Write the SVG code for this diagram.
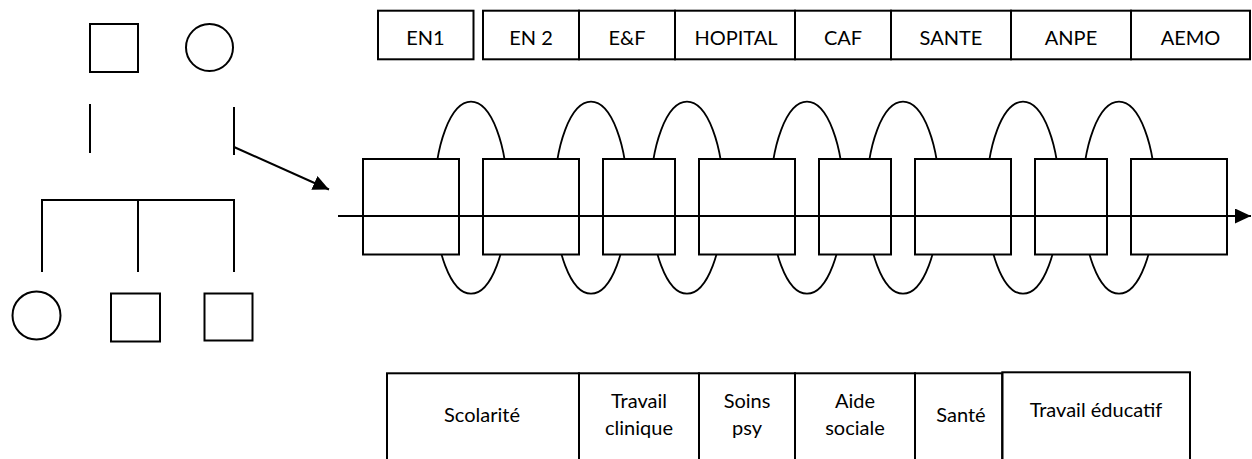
<svg xmlns="http://www.w3.org/2000/svg" width="1252" height="459" viewBox="0 0 1252 459">
<defs>
<style>
.s{fill:none;stroke:#000;stroke-width:2}
.b{fill:#fff;stroke:#000;stroke-width:2}
.e{fill:none;stroke:#000;stroke-width:1.8}
.t{font-family:Lato,"Open Sans","Liberation Sans",sans-serif;font-size:20px;fill:#000;text-anchor:middle}
</style>
<marker id="ah2" viewBox="0 0 16 15" refX="16" refY="7.5" markerWidth="16" markerHeight="15" markerUnits="userSpaceOnUse" orient="auto">
<path d="M0,0 L16,7.5 L0,15 Z" fill="#000"/>
</marker>
</defs>

<!-- genogram -->
<g id="father"><rect class="s" x="90" y="24" width="48" height="48"/></g>
<g id="mother"><circle class="s" cx="209.5" cy="47.5" r="23.5"/></g>
<g id="child1"><circle class="s" cx="36.5" cy="315.5" r="24"/></g>
<g id="child2"><rect class="s" x="111" y="293.5" width="49" height="48"/></g>
<g id="child3"><rect class="s" x="204.5" y="293.5" width="48" height="47"/></g>

<!-- ellipses (links between institutions) -->
<g id="links">
<ellipse class="e" cx="471" cy="197.7" rx="36.5" ry="96"/>
<ellipse class="e" cx="591" cy="197.7" rx="36.5" ry="96"/>
<ellipse class="e" cx="687" cy="197.7" rx="36.5" ry="96"/>
<ellipse class="e" cx="807" cy="197.7" rx="36.5" ry="96"/>
<ellipse class="e" cx="903" cy="197.7" rx="36.5" ry="96"/>
<ellipse class="e" cx="1023" cy="197.7" rx="36.5" ry="96"/>
<ellipse class="e" cx="1119" cy="197.7" rx="36.5" ry="96"/>
</g>

<!-- timeline boxes -->
<g id="box1"><rect class="b" x="363" y="159" width="96" height="95.5"/></g>
<g id="box2"><rect class="b" x="483" y="159" width="96" height="95.5"/></g>
<g id="box3"><rect class="b" x="603" y="159" width="72" height="95.5"/></g>
<g id="box4"><rect class="b" x="699" y="159" width="96" height="95.5"/></g>
<g id="box5"><rect class="b" x="819" y="159" width="72" height="95.5"/></g>
<g id="box6"><rect class="b" x="915" y="159" width="96" height="95.5"/></g>
<g id="box7"><rect class="b" x="1035" y="159" width="72" height="95.5"/></g>
<g id="box8"><rect class="b" x="1131" y="159" width="96" height="95.5"/></g>

<!-- connectors -->
<g id="connectors">
<line class="s" x1="90" y1="104" x2="90" y2="153"/>
<line class="s" x1="234" y1="107" x2="234" y2="155"/>
<line class="s" x1="41" y1="200" x2="235" y2="200"/>
<line class="s" x1="42" y1="200" x2="42" y2="272"/>
<line class="s" x1="138" y1="200" x2="138" y2="272"/>
<line class="s" x1="234" y1="200" x2="234" y2="272"/>
<line class="s" x1="234" y1="147" x2="329" y2="189.5" marker-end="url(#ah2)"/>
<line class="s" x1="338" y1="216" x2="1251" y2="216" marker-end="url(#ah2)"/>
</g>

<!-- top institutions -->
<g id="EN1"><rect class="s" x="378" y="10.7" width="95.5" height="48.6"/><text class="t" x="425.5" y="45">EN1</text></g>
<g id="EN2"><rect class="s" x="483" y="10.7" width="96" height="48.6"/><text class="t" x="531" y="45">EN 2</text></g>
<g id="EF"><rect class="s" x="579" y="10.7" width="96" height="48.6"/><text class="t" x="627" y="45">E&amp;F</text></g>
<g id="HOPITAL"><rect class="s" x="675" y="10.7" width="120" height="48.6"/><text class="t" x="736" y="45">HOPITAL</text></g>
<g id="CAF"><rect class="s" x="795" y="10.7" width="96" height="48.6"/><text class="t" x="843" y="45">CAF</text></g>
<g id="SANTE"><rect class="s" x="891" y="10.7" width="120" height="48.6"/><text class="t" x="951" y="45">SANTE</text></g>
<g id="ANPE"><rect class="s" x="1011" y="10.7" width="120" height="48.6"/><text class="t" x="1071" y="45">ANPE</text></g>
<g id="AEMO"><rect class="s" x="1131" y="10.7" width="119" height="48.6"/><text class="t" x="1190.5" y="45">AEMO</text></g>

<!-- bottom domains -->
<g id="scolarite"><rect class="s" x="387" y="373.3" width="192" height="100"/><text class="t" x="482" y="422">Scolarité</text></g>
<g id="travail-clinique"><rect class="s" x="579" y="373.3" width="120" height="100"/><text class="t" x="639" y="407.5">Travail</text><text class="t" x="639" y="434.5">clinique</text></g>
<g id="soins-psy"><rect class="s" x="699" y="373.3" width="96" height="100"/><text class="t" x="747" y="407.5">Soins</text><text class="t" x="747" y="434.5">psy</text></g>
<g id="aide-sociale"><rect class="s" x="795" y="373.3" width="120" height="100"/><text class="t" x="855" y="407.5">Aide</text><text class="t" x="855" y="434.5">sociale</text></g>
<g id="sante2"><rect class="s" x="915" y="373.3" width="87.3" height="100"/><text class="t" x="961" y="422">Santé</text></g>
<g id="travail-educatif"><rect class="s" x="1002.3" y="372.3" width="187.7" height="100"/><text class="t" x="1096" y="417.3">Travail éducatif</text></g>
</svg>
